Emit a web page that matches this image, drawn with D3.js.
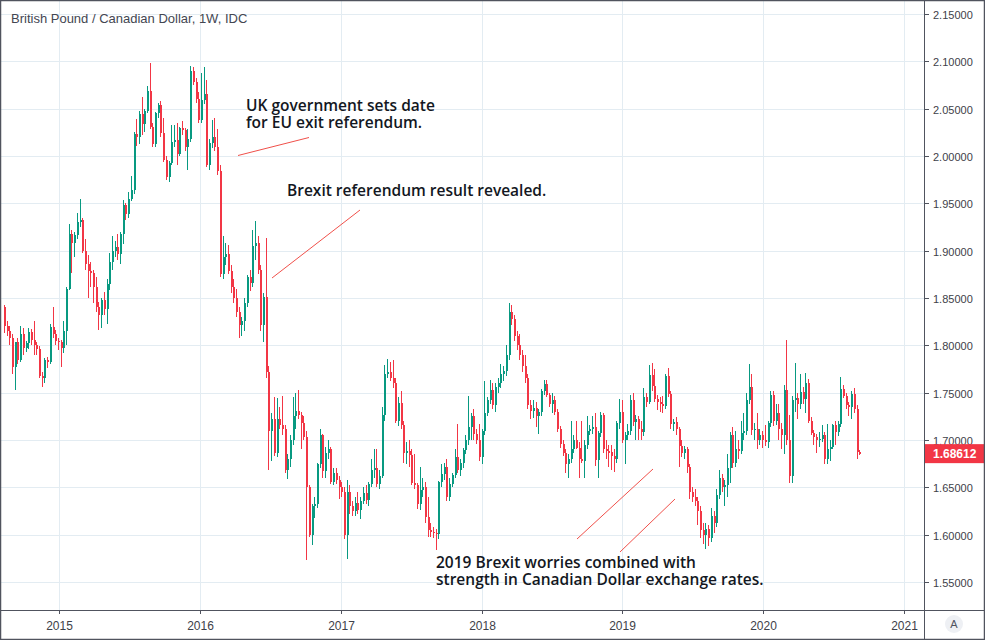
<!DOCTYPE html>
<html><head><meta charset="utf-8">
<script src="https://cdn.jsdelivr.net/npm/d3@7"></script>
<style>body{margin:0;background:#fff}svg{display:block}</style>
</head><body><svg id="c" width="985" height="640"></svg>
<script>
const title = "British Pound / Canadian Dollar, 1W, IDC";
const firstWeek = [2014, 7, 11]; // Monday 11 Aug 2014, one candle per week
const opens = [
1.840,1.820,1.815,1.808,1.777,1.803,1.784,1.812,1.797,1.802,
1.814,1.806,1.800,1.796,1.768,1.766,1.784,1.782,1.819,1.812,
1.805,1.803,1.797,1.815,1.860,1.918,1.908,1.917,1.930,1.932,
1.900,1.886,1.879,1.876,1.862,1.840,1.832,1.848,1.838,1.865,
1.888,1.900,1.904,1.897,1.918,1.948,1.939,1.955,1.964,2.023,
2.020,2.044,2.034,2.048,2.069,2.031,2.013,2.045,2.054,2.024,
1.996,1.978,1.993,2.015,2.017,2.002,2.030,2.027,2.009,2.018,
2.090,2.078,2.060,2.038,2.059,2.066,1.990,2.014,2.020,2.010,
1.984,1.875,1.893,1.897,1.879,1.862,1.850,1.835,1.822,1.826,
1.845,1.872,1.866,1.905,1.908,1.880,1.821,1.851,1.772,1.710,
1.722,1.686,1.722,1.716,1.712,1.668,1.680,1.700,1.725,1.731,
1.726,1.718,1.703,1.650,1.600,1.630,1.632,1.675,1.705,1.667,
1.686,1.690,1.656,1.665,1.658,1.650,1.645,1.600,1.645,1.630,
1.625,1.633,1.626,1.636,1.644,1.637,1.654,1.668,1.670,1.654,
1.662,1.726,1.770,1.772,1.765,1.760,1.720,1.739,1.716,1.686,
1.688,1.684,1.655,1.652,1.632,1.647,1.650,1.619,1.605,1.603,
1.602,1.601,1.656,1.664,1.672,1.640,1.654,1.663,1.682,1.668,
1.676,1.689,1.700,1.714,1.725,1.706,1.700,1.682,1.710,1.729,
1.742,1.753,1.737,1.756,1.760,1.770,1.773,1.790,1.835,1.828,
1.810,1.800,1.790,1.778,1.765,1.737,1.731,1.734,1.725,1.730,
1.752,1.759,1.748,1.738,1.742,1.730,1.712,1.696,1.686,1.675,
1.680,1.690,1.700,1.692,1.680,1.678,1.695,1.710,1.712,1.714,
1.679,1.707,1.726,1.690,1.688,1.687,1.683,1.680,1.718,1.730,
1.700,1.705,1.709,1.742,1.719,1.722,1.712,1.708,1.745,1.740,
1.769,1.757,1.743,1.740,1.738,1.736,1.768,1.749,1.717,1.719,
1.712,1.694,1.686,1.691,1.672,1.645,1.640,1.636,1.625,1.605,
1.600,1.606,1.596,1.620,1.612,1.642,1.660,1.650,1.652,1.670,
1.705,1.676,1.690,1.688,1.707,1.709,1.742,1.756,1.711,1.712,
1.700,1.705,1.700,1.698,1.718,1.748,1.720,1.728,1.712,1.705,
1.753,1.700,1.662,1.742,1.744,1.738,1.751,1.743,1.760,1.720,
1.707,1.703,1.700,1.701,1.705,1.680,1.690,1.693,1.716,1.708,
1.717,1.754,1.746,1.737,1.735,1.749,1.733,1.687];
const highs = [
1.843,1.826,1.820,1.812,1.803,1.808,1.820,1.818,1.805,1.818,
1.817,1.826,1.803,1.799,1.772,1.787,1.788,1.823,1.840,1.816,
1.808,1.806,1.826,1.862,1.928,1.922,1.920,1.940,1.955,1.935,
1.912,1.895,1.888,1.880,1.872,1.846,1.850,1.856,1.870,1.898,
1.915,1.910,1.918,1.920,1.953,1.950,1.962,1.979,2.025,2.039,
2.048,2.062,2.050,2.074,2.098,2.035,2.047,2.056,2.058,2.040,
2.000,1.995,2.033,2.033,2.035,2.031,2.037,2.030,2.028,2.095,
2.094,2.082,2.068,2.088,2.094,2.080,2.018,2.038,2.040,2.029,
1.990,1.916,1.908,1.906,1.885,1.870,1.860,1.840,1.830,1.850,
1.874,1.880,1.922,1.931,1.915,1.885,1.855,1.913,1.778,1.728,
1.745,1.744,1.735,1.747,1.716,1.685,1.705,1.745,1.750,1.753,
1.730,1.725,1.710,1.652,1.632,1.640,1.676,1.712,1.706,1.693,
1.700,1.693,1.670,1.670,1.662,1.656,1.650,1.658,1.652,1.636,
1.640,1.645,1.640,1.650,1.652,1.656,1.680,1.690,1.690,1.668,
1.735,1.779,1.786,1.782,1.784,1.765,1.745,1.752,1.720,1.698,
1.700,1.690,1.685,1.655,1.672,1.660,1.656,1.640,1.612,1.608,
1.606,1.657,1.675,1.676,1.680,1.660,1.665,1.690,1.717,1.680,
1.692,1.705,1.746,1.728,1.733,1.712,1.717,1.712,1.762,1.745,
1.763,1.760,1.760,1.765,1.780,1.778,1.800,1.845,1.843,1.832,
1.815,1.812,1.795,1.790,1.770,1.742,1.742,1.740,1.733,1.754,
1.763,1.763,1.750,1.750,1.746,1.733,1.715,1.700,1.690,1.685,
1.720,1.705,1.720,1.698,1.720,1.700,1.725,1.716,1.725,1.728,
1.710,1.730,1.728,1.700,1.695,1.695,1.690,1.720,1.743,1.742,
1.708,1.717,1.748,1.750,1.726,1.725,1.720,1.755,1.750,1.779,
1.781,1.775,1.748,1.745,1.747,1.770,1.776,1.752,1.722,1.724,
1.714,1.700,1.694,1.693,1.675,1.650,1.648,1.640,1.630,1.612,
1.612,1.610,1.628,1.625,1.648,1.668,1.664,1.658,1.685,1.708,
1.714,1.710,1.700,1.720,1.728,1.750,1.780,1.770,1.718,1.728,
1.712,1.710,1.716,1.720,1.752,1.752,1.738,1.738,1.718,1.758,
1.806,1.726,1.746,1.781,1.750,1.770,1.756,1.771,1.764,1.724,
1.711,1.706,1.708,1.716,1.708,1.717,1.700,1.717,1.720,1.720,
1.767,1.758,1.750,1.740,1.752,1.755,1.737,1.689];
const lows = [
1.813,1.810,1.800,1.770,1.753,1.780,1.782,1.790,1.793,1.796,
1.800,1.790,1.790,1.765,1.756,1.760,1.776,1.780,1.808,1.800,
1.795,1.777,1.792,1.800,1.858,1.876,1.893,1.912,1.925,1.898,
1.880,1.850,1.862,1.845,1.835,1.816,1.818,1.832,1.823,1.858,
1.880,1.893,1.890,1.886,1.907,1.932,1.935,1.952,1.960,2.011,
2.013,2.022,2.025,2.045,2.028,2.010,2.010,2.040,2.020,1.994,
1.975,1.973,1.990,2.010,1.990,2.000,2.022,2.005,1.985,2.015,
2.075,2.056,2.035,2.035,2.055,1.988,1.985,2.008,2.005,1.980,
1.872,1.870,1.885,1.875,1.855,1.845,1.830,1.808,1.810,1.815,
1.840,1.857,1.862,1.890,1.875,1.815,1.804,1.765,1.668,1.678,
1.683,1.682,1.712,1.705,1.665,1.659,1.672,1.695,1.712,1.722,
1.690,1.700,1.573,1.598,1.589,1.618,1.628,1.670,1.660,1.660,
1.680,1.654,1.652,1.654,1.638,1.640,1.595,1.574,1.622,1.620,
1.620,1.622,1.617,1.632,1.632,1.630,1.650,1.660,1.650,1.648,
1.660,1.720,1.765,1.762,1.755,1.718,1.715,1.712,1.676,1.675,
1.672,1.652,1.648,1.627,1.626,1.640,1.612,1.598,1.598,1.596,
1.584,1.595,1.650,1.658,1.636,1.636,1.650,1.660,1.665,1.662,
1.670,1.685,1.695,1.700,1.700,1.696,1.678,1.675,1.705,1.725,
1.738,1.733,1.730,1.750,1.755,1.762,1.768,1.785,1.822,1.805,
1.795,1.785,1.772,1.760,1.733,1.722,1.723,1.714,1.706,1.725,
1.748,1.745,1.735,1.728,1.726,1.708,1.692,1.683,1.665,1.660,
1.676,1.686,1.690,1.660,1.676,1.660,1.690,1.705,1.706,1.673,
1.660,1.703,1.686,1.680,1.672,1.668,1.666,1.676,1.712,1.697,
1.675,1.700,1.705,1.715,1.700,1.700,1.700,1.704,1.735,1.738,
1.752,1.740,1.732,1.730,1.728,1.733,1.745,1.712,1.710,1.705,
1.672,1.682,1.680,1.665,1.638,1.634,1.630,1.610,1.596,1.590,
1.585,1.588,1.592,1.602,1.608,1.638,1.645,1.630,1.640,1.655,
1.670,1.672,1.680,1.685,1.700,1.705,1.738,1.705,1.700,1.690,
1.695,1.692,1.694,1.692,1.714,1.715,1.716,1.700,1.690,1.685,
1.695,1.655,1.655,1.730,1.722,1.733,1.738,1.728,1.718,1.705,
1.695,1.686,1.693,1.698,1.675,1.675,1.678,1.690,1.695,1.704,
1.714,1.744,1.733,1.725,1.722,1.728,1.680,1.684];
const closes = [
1.820,1.815,1.808,1.777,1.803,1.784,1.812,1.797,1.802,1.814,
1.806,1.800,1.796,1.768,1.766,1.784,1.782,1.819,1.812,1.805,
1.803,1.797,1.815,1.860,1.918,1.908,1.917,1.930,1.932,1.900,
1.886,1.879,1.876,1.862,1.840,1.832,1.848,1.838,1.865,1.888,
1.900,1.904,1.897,1.918,1.948,1.939,1.955,1.964,2.023,2.020,
2.044,2.034,2.048,2.069,2.031,2.013,2.045,2.054,2.024,1.996,
1.978,1.993,2.015,2.017,2.002,2.030,2.027,2.009,2.018,2.090,
2.078,2.060,2.038,2.059,2.066,1.990,2.014,2.020,2.010,1.984,
1.875,1.893,1.897,1.879,1.862,1.850,1.835,1.822,1.826,1.845,
1.872,1.866,1.905,1.908,1.880,1.821,1.851,1.772,1.710,1.722,
1.686,1.722,1.716,1.712,1.668,1.680,1.700,1.725,1.731,1.726,
1.718,1.703,1.650,1.600,1.630,1.632,1.675,1.705,1.667,1.686,
1.690,1.656,1.665,1.658,1.650,1.645,1.600,1.645,1.630,1.625,
1.633,1.626,1.636,1.644,1.637,1.654,1.668,1.670,1.654,1.662,
1.726,1.770,1.772,1.765,1.760,1.720,1.739,1.716,1.686,1.688,
1.684,1.655,1.652,1.632,1.647,1.650,1.619,1.605,1.603,1.602,
1.601,1.656,1.664,1.672,1.640,1.654,1.663,1.682,1.668,1.676,
1.689,1.700,1.714,1.725,1.706,1.700,1.682,1.710,1.729,1.742,
1.753,1.737,1.756,1.760,1.770,1.773,1.790,1.835,1.828,1.810,
1.800,1.790,1.778,1.765,1.737,1.731,1.734,1.725,1.730,1.752,
1.759,1.748,1.738,1.742,1.730,1.712,1.696,1.686,1.675,1.680,
1.690,1.700,1.692,1.680,1.678,1.695,1.710,1.712,1.714,1.679,
1.707,1.726,1.690,1.688,1.687,1.683,1.680,1.718,1.730,1.700,
1.705,1.709,1.742,1.719,1.722,1.712,1.708,1.745,1.740,1.769,
1.757,1.743,1.740,1.738,1.736,1.768,1.749,1.717,1.719,1.712,
1.694,1.686,1.691,1.672,1.645,1.640,1.636,1.625,1.605,1.600,
1.606,1.596,1.620,1.612,1.642,1.660,1.650,1.652,1.670,1.705,
1.676,1.690,1.688,1.707,1.709,1.742,1.756,1.711,1.712,1.700,
1.705,1.700,1.698,1.718,1.748,1.720,1.728,1.712,1.705,1.753,
1.700,1.662,1.742,1.744,1.738,1.751,1.743,1.760,1.720,1.707,
1.703,1.700,1.701,1.705,1.680,1.690,1.693,1.716,1.708,1.717,
1.754,1.746,1.737,1.735,1.749,1.733,1.687,1.68612];
const yearLabels = ["2015","2016","2017","2018","2019","2020","2021"];
const priceTicks = [1.55,1.60,1.65,1.70,1.75,1.80,1.85,1.90,1.95,2.00,2.05,2.10,2.15];
const lastPrice = 1.68612;
const noteTexts = [
  ["UK government sets date", "for EU exit referendum."],
  ["Brexit referendum result revealed."],
  ["2019 Brexit worries combined with", "strength in Canadian Dollar exchange rates."]
];

const W = 985, H = 640, plotR = 924, plotB = 610;
const UP = "#089981", DOWN = "#f23645";
const svg = d3.select("#c");
svg.append("rect").attr("width", W).attr("height", H).attr("fill", "#fff");

const start = new Date(Date.UTC(firstWeek[0], firstWeek[1], firstWeek[2]));
const weeks = closes.map((c, i) => ({
  date: d3.utcDay.offset(start, 7 * i), o: opens[i], h: highs[i], l: lows[i], c: c
}));
const x = d3.scaleUtc().domain([start, new Date(Date.UTC(2021, 0, 1))]).range([4, 904]);
const y = d3.scaleLinear().domain([1.55, 2.15]).range([582, 14]);

svg.append("clipPath").attr("id", "clip").append("rect")
  .attr("x", 0).attr("y", 0).attr("width", plotR).attr("height", plotB);

// grid
const grid = svg.append("g").attr("clip-path", "url(#clip)").attr("shape-rendering", "crispEdges");
const yearDates = yearLabels.map(s => new Date(Date.UTC(+s, 0, 1)));
grid.selectAll("line.v").data(yearDates).join("line")
  .attr("x1", d => Math.round(x(d)) + 0.5).attr("x2", d => Math.round(x(d)) + 0.5)
  .attr("y1", 0).attr("y2", plotB).attr("stroke", "#e3ecf2");
grid.selectAll("line.h").data(priceTicks).join("line")
  .attr("x1", 0).attr("x2", plotR)
  .attr("y1", d => Math.round(y(d)) + 0.5).attr("y2", d => Math.round(y(d)) + 0.5)
  .attr("stroke", "#e3ecf2");

// candles
const cg = svg.append("g").attr("clip-path", "url(#clip)").attr("shape-rendering", "crispEdges");
const cand = cg.selectAll("g").data(weeks).join("g")
  .attr("fill", d => d.c >= d.o ? UP : DOWN).attr("stroke", d => d.c >= d.o ? UP : DOWN);
cand.append("line")
  .attr("x1", d => Math.round(x(d.date)) + 0.5).attr("x2", d => Math.round(x(d.date)) + 0.5)
  .attr("y1", d => y(d.h)).attr("y2", d => y(d.l)).attr("stroke-width", 1);
cand.append("rect")
  .attr("x", d => Math.round(x(d.date))).attr("width", 2)
  .attr("y", d => y(Math.max(d.o, d.c)))
  .attr("height", d => Math.max(1.2, Math.abs(y(d.o) - y(d.c))))
  .attr("stroke", "none");

// annotations (one text element per note, lines as tspans)
const ann = svg.append("g").attr("font-family", "'Open Sans', Lato, sans-serif")
  .attr("font-size", 15.5).attr("font-weight", 600).attr("fill", "#131722");
const notePos = [[246, 111], [287, 196], [436, 568]];
noteTexts.forEach((lines, k) => {
  const t = ann.append("text").attr("x", notePos[k][0]).attr("y", notePos[k][1]);
  lines.forEach((s, j) => {
    t.append("tspan").attr("x", notePos[k][0]).attr("dy", j === 0 ? 0 : 17).text(s);
  });
});
const segs = [[238, 155.5, 309, 137.5], [272, 278, 360, 210], [577, 539, 653, 469], [620, 552, 675, 499]];
svg.append("g").selectAll("line").data(segs).join("line")
  .attr("x1", d => d[0]).attr("y1", d => d[1]).attr("x2", d => d[2]).attr("y2", d => d[3])
  .attr("stroke", "#f0504a").attr("stroke-width", 1);

// title
svg.append("text").attr("x", 11).attr("y", 23).attr("font-family", "'Liberation Sans', Arial, sans-serif")
  .attr("font-size", 13).attr("fill", "#434651").text(title);

// right axis
const ra = svg.append("g").attr("font-family", "'Liberation Sans', Arial, sans-serif").attr("font-size", 11).attr("fill", "#3e4149");
ra.append("line").attr("x1", plotR + 0.5).attr("x2", plotR + 0.5).attr("y1", 0).attr("y2", H)
  .attr("stroke", "#50535e").attr("shape-rendering", "crispEdges");
priceTicks.forEach(p => {
  const yy = Math.round(y(p)) + 0.5;
  ra.append("line").attr("x1", plotR).attr("x2", plotR + 5).attr("y1", yy).attr("y2", yy)
    .attr("stroke", "#50535e").attr("shape-rendering", "crispEdges");
  ra.append("text").attr("x", 933).attr("y", yy + 4).text(p.toFixed(5));
});
// last price label
const ly = y(lastPrice);
svg.append("rect").attr("x", plotR + 1).attr("y", ly - 9).attr("width", 60).attr("height", 19).attr("fill", DOWN);
svg.append("text").attr("x", 933).attr("y", ly + 5).attr("font-family", "'Liberation Sans', Arial, sans-serif")
  .attr("font-size", 12).attr("font-weight", "bold").attr("fill", "#fff").text(lastPrice.toFixed(5));

// bottom axis
const ba = svg.append("g").attr("font-family", "'Liberation Sans', Arial, sans-serif").attr("font-size", 12).attr("fill", "#3e4149");
ba.append("line").attr("x1", 0).attr("x2", W).attr("y1", plotB + 0.5).attr("y2", plotB + 0.5)
  .attr("stroke", "#50535e").attr("shape-rendering", "crispEdges");
yearDates.forEach((d, i) => {
  const xx = Math.round(x(d)) + 0.5;
  ba.append("line").attr("x1", xx).attr("x2", xx).attr("y1", plotB).attr("y2", plotB + 4)
    .attr("stroke", "#50535e").attr("shape-rendering", "crispEdges");
  ba.append("text").attr("x", xx).attr("y", 630).attr("text-anchor", "middle").text(yearLabels[i]);
});
// "A" button
svg.append("circle").attr("cx", 954).attr("cy", 624).attr("r", 9).attr("fill", "#eef0f4");
svg.append("text").attr("x", 954).attr("y", 628).attr("text-anchor", "middle")
  .attr("font-family", "'Liberation Sans', Arial, sans-serif").attr("font-size", 11).attr("fill", "#50535e").text("A");

// frame
svg.append("rect").attr("x", 0.5).attr("y", 0.5).attr("width", W - 1).attr("height", H - 1)
  .attr("fill", "none").attr("stroke", "#50535e").attr("stroke-width", 1.5);
</script></body></html>
